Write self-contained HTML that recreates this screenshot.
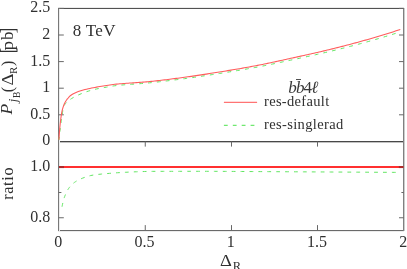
<!DOCTYPE html><html><head><meta charset="utf-8"><title>plot</title><style>
html,body{margin:0;padding:0;background:#fff;}
#c{position:relative;width:407px;height:269px;overflow:hidden;background:#fff;font-family:"Liberation Serif",serif;color:#303030;}
.t{position:absolute;white-space:nowrap;line-height:1;}
#tx{position:absolute;left:0;top:0;width:407px;height:269px;will-change:opacity;opacity:0.999;}
.rot{position:absolute;left:0;top:0;width:0;height:0;transform-origin:0 0;}
</style></head><body><div id="c">
<svg width="407" height="269" viewBox="0 0 407 269" style="position:absolute;left:0;top:0">
<g shape-rendering="crispEdges">
<rect x="58" y="8" width="346" height="1" fill="#525252"/>
<rect x="58" y="7" width="346" height="1" fill="#ececec"/>
<rect x="58" y="141" width="346" height="1" fill="#484848"/>
<rect x="58" y="142" width="346" height="1" fill="#c2c2c2"/>
<rect x="58" y="230" width="346" height="1" fill="#6a6a6a"/>
<rect x="58" y="231" width="346" height="1" fill="#ececec"/>
<rect x="58" y="8" width="1" height="223" fill="#787878"/>
<rect x="59" y="8" width="1" height="223" fill="#ececec"/>
<rect x="403" y="8" width="1" height="223" fill="#808080"/>
<rect x="404" y="8" width="1" height="223" fill="#cccccc"/>
</g>
<g stroke="#686868" stroke-width="1" fill="none">
<line x1="58.5" y1="114.80" x2="63.8" y2="114.80"/>
<line x1="403.8" y1="114.80" x2="399.0" y2="114.80"/>
<line x1="58.5" y1="88.20" x2="63.8" y2="88.20"/>
<line x1="403.8" y1="88.20" x2="399.0" y2="88.20"/>
<line x1="58.5" y1="61.60" x2="63.8" y2="61.60"/>
<line x1="403.8" y1="61.60" x2="399.0" y2="61.60"/>
<line x1="58.5" y1="35.00" x2="63.8" y2="35.00"/>
<line x1="403.8" y1="35.00" x2="399.0" y2="35.00"/>
<line x1="58.5" y1="8.40" x2="63.8" y2="8.40"/>
<line x1="403.8" y1="8.40" x2="399.0" y2="8.40"/>
<line x1="58.5" y1="217.75" x2="63.8" y2="217.75"/>
<line x1="403.8" y1="217.75" x2="399.0" y2="217.75"/>
<line x1="58.5" y1="192.50" x2="61.4" y2="192.50"/>
<line x1="403.8" y1="192.50" x2="401.40000000000003" y2="192.50"/>
<line x1="58.5" y1="167.00" x2="63.8" y2="167.00"/>
<line x1="403.8" y1="167.00" x2="399.0" y2="167.00"/>
<line x1="145.25" y1="230.5" x2="145.25" y2="225.1"/>
<line x1="145.25" y1="141.5" x2="145.25" y2="146.6"/>
<line x1="231.50" y1="230.5" x2="231.50" y2="225.1"/>
<line x1="231.50" y1="141.5" x2="231.50" y2="146.6"/>
<line x1="317.50" y1="230.5" x2="317.50" y2="225.1"/>
<line x1="317.50" y1="141.5" x2="317.50" y2="146.6"/>
</g>
<path d="M58.90,139.90 L59.09,138.23 L59.28,136.58 L59.46,134.96 L59.65,133.37 L59.84,131.81 L60.03,130.27 L60.22,128.77 L60.41,127.30 L60.59,125.85 L60.78,124.44 L60.97,123.06 L61.16,121.70 L61.35,120.37 L61.53,119.06 L61.72,117.78 L61.91,116.51 L62.10,115.27 L62.29,114.02 L62.47,112.67 L62.66,111.29 L62.85,109.95 L63.04,108.76 L63.23,107.80 L63.42,107.16 L63.60,106.70 L63.79,106.27 L63.98,105.88 L64.17,105.51 L64.36,105.18 L64.54,104.86 L64.73,104.58 L64.92,104.31 L65.11,104.06 L65.30,103.83 L65.48,103.61 L65.67,103.40 L65.86,103.21 L66.05,103.02 L66.24,102.83 L66.43,102.65 L66.61,102.48 L66.80,102.29 L66.99,102.11 L67.18,101.92 L67.37,101.74 L67.55,101.56 L67.74,101.38 L67.93,101.21 L68.12,101.05 L68.31,100.89 L68.49,100.73 L68.68,100.58 L68.87,100.43 L69.06,100.28 L69.25,100.14 L69.44,100.00 L69.62,99.87 L69.81,99.73 L70.00,99.60 L71.66,98.51 L73.32,97.53 L74.98,96.62 L76.64,95.79 L78.30,95.00 L79.96,94.25 L81.62,93.54 L83.28,92.88 L84.94,92.27 L86.60,91.70 L88.26,91.16 L89.92,90.65 L91.58,90.17 L93.24,89.73 L94.90,89.33 L96.56,88.97 L98.22,88.63 L99.88,88.31 L101.54,88.01 L103.20,87.72 L104.86,87.43 L106.52,87.13 L108.18,86.83 L109.84,86.53 L111.49,86.25 L113.15,85.98 L114.81,85.75 L116.47,85.55 L118.13,85.37 L119.79,85.20 L121.45,85.04 L123.11,84.90 L124.77,84.76 L126.43,84.63 L128.09,84.50 L129.75,84.38 L131.41,84.27 L133.07,84.15 L134.73,84.04 L136.39,83.92 L138.05,83.80 L139.71,83.68 L141.37,83.55 L143.03,83.42 L144.69,83.28 L146.35,83.13 L148.01,82.97 L149.67,82.81 L151.33,82.64 L152.99,82.47 L154.65,82.29 L156.31,82.11 L157.97,81.93 L159.63,81.74 L161.29,81.55 L162.95,81.36 L164.61,81.17 L166.27,80.97 L167.93,80.77 L169.59,80.57 L171.25,80.36 L172.91,80.16 L174.57,79.95 L176.23,79.74 L177.89,79.53 L179.55,79.31 L181.21,79.10 L182.87,78.88 L184.53,78.66 L186.19,78.44 L187.85,78.22 L189.51,77.99 L191.17,77.76 L192.83,77.52 L194.48,77.29 L196.14,77.05 L197.80,76.80 L199.46,76.56 L201.12,76.31 L202.78,76.06 L204.44,75.81 L206.10,75.56 L207.76,75.30 L209.42,75.05 L211.08,74.79 L212.74,74.53 L214.40,74.27 L216.06,74.01 L217.72,73.75 L219.38,73.48 L221.04,73.22 L222.70,72.96 L224.36,72.69 L226.02,72.43 L227.68,72.16 L229.34,71.90 L231.00,71.63 L232.66,71.36 L234.32,71.08 L235.98,70.81 L237.64,70.53 L239.30,70.26 L240.96,69.98 L242.62,69.69 L244.28,69.41 L245.94,69.12 L247.60,68.83 L249.26,68.54 L250.92,68.24 L252.58,67.94 L254.24,67.64 L255.90,67.33 L257.56,67.02 L259.22,66.71 L260.88,66.39 L262.54,66.06 L264.20,65.74 L265.86,65.40 L267.52,65.07 L269.18,64.73 L270.84,64.38 L272.50,64.04 L274.16,63.69 L275.82,63.34 L277.47,62.98 L279.13,62.63 L280.79,62.27 L282.45,61.91 L284.11,61.55 L285.77,61.20 L287.43,60.84 L289.09,60.48 L290.75,60.12 L292.41,59.76 L294.07,59.41 L295.73,59.05 L297.39,58.69 L299.05,58.34 L300.71,57.98 L302.37,57.62 L304.03,57.26 L305.69,56.90 L307.35,56.54 L309.01,56.18 L310.67,55.81 L312.33,55.45 L313.99,55.08 L315.65,54.71 L317.31,54.34 L318.97,53.96 L320.63,53.59 L322.29,53.21 L323.95,52.82 L325.61,52.44 L327.27,52.05 L328.93,51.66 L330.59,51.26 L332.25,50.86 L333.91,50.46 L335.57,50.06 L337.23,49.65 L338.89,49.24 L340.55,48.83 L342.21,48.41 L343.87,48.00 L345.53,47.58 L347.19,47.16 L348.85,46.73 L350.51,46.30 L352.17,45.87 L353.83,45.44 L355.49,45.00 L357.15,44.56 L358.81,44.12 L360.46,43.67 L362.12,43.22 L363.78,42.77 L365.44,42.31 L367.10,41.85 L368.76,41.39 L370.42,40.92 L372.08,40.45 L373.74,39.98 L375.40,39.50 L377.06,39.02 L378.72,38.53 L380.38,38.04 L382.04,37.55 L383.70,37.05 L385.36,36.55 L387.02,36.05 L388.68,35.54 L390.34,35.03 L392.00,34.52 L393.66,34.00 L395.32,33.48 L396.98,32.96 L398.64,32.43 L400.30,31.90" stroke="#62e662" stroke-width="1" fill="none" stroke-dasharray="3.8 5.1" stroke-dashoffset="0.7"/>
<path d="M58.90,139.70 L59.09,136.99 L59.28,134.37 L59.46,131.88 L59.65,129.55 L59.84,127.42 L60.03,125.52 L60.22,123.77 L60.41,122.08 L60.59,120.46 L60.78,118.92 L60.97,117.47 L61.16,116.10 L61.35,114.83 L61.53,113.66 L61.72,112.60 L61.91,111.65 L62.10,110.79 L62.29,110.00 L62.47,109.28 L62.66,108.60 L62.85,107.97 L63.04,107.37 L63.23,106.80 L63.42,106.26 L63.60,105.73 L63.79,105.22 L63.98,104.73 L64.17,104.27 L64.36,103.83 L64.54,103.41 L64.73,103.02 L64.92,102.66 L65.11,102.32 L65.30,101.98 L65.48,101.66 L65.67,101.35 L65.86,101.05 L66.05,100.76 L66.24,100.48 L66.43,100.21 L66.61,99.94 L66.80,99.69 L66.99,99.43 L67.18,99.19 L67.37,98.95 L67.55,98.72 L67.74,98.49 L67.93,98.26 L68.12,98.04 L68.31,97.82 L68.49,97.60 L68.68,97.39 L68.87,97.18 L69.06,96.98 L69.25,96.78 L69.44,96.58 L69.62,96.39 L69.81,96.21 L70.00,96.03 L71.66,94.79 L73.32,93.80 L74.98,92.97 L76.64,92.25 L78.30,91.60 L79.96,91.02 L81.62,90.49 L83.28,90.02 L84.94,89.59 L86.60,89.18 L88.26,88.80 L89.92,88.43 L91.58,88.07 L93.24,87.74 L94.90,87.41 L96.56,87.11 L98.22,86.81 L99.88,86.52 L101.54,86.24 L103.20,85.97 L104.86,85.70 L106.52,85.45 L108.18,85.20 L109.84,84.96 L111.49,84.73 L113.15,84.52 L114.81,84.33 L116.47,84.15 L118.13,83.99 L119.79,83.83 L121.45,83.69 L123.11,83.56 L124.77,83.43 L126.43,83.31 L128.09,83.19 L129.75,83.07 L131.41,82.96 L133.07,82.85 L134.73,82.74 L136.39,82.63 L138.05,82.51 L139.71,82.39 L141.37,82.27 L143.03,82.14 L144.69,82.00 L146.35,81.85 L148.01,81.69 L149.67,81.53 L151.33,81.37 L152.99,81.19 L154.65,81.02 L156.31,80.84 L157.97,80.65 L159.63,80.46 L161.29,80.27 L162.95,80.07 L164.61,79.87 L166.27,79.67 L167.93,79.46 L169.59,79.25 L171.25,79.04 L172.91,78.82 L174.57,78.61 L176.23,78.39 L177.89,78.17 L179.55,77.95 L181.21,77.73 L182.87,77.51 L184.53,77.29 L186.19,77.06 L187.85,76.83 L189.51,76.60 L191.17,76.36 L192.83,76.13 L194.48,75.88 L196.14,75.64 L197.80,75.39 L199.46,75.14 L201.12,74.89 L202.78,74.63 L204.44,74.37 L206.10,74.12 L207.76,73.86 L209.42,73.59 L211.08,73.33 L212.74,73.06 L214.40,72.80 L216.06,72.53 L217.72,72.26 L219.38,72.00 L221.04,71.73 L222.70,71.46 L224.36,71.19 L226.02,70.92 L227.68,70.65 L229.34,70.37 L231.00,70.10 L232.66,69.82 L234.32,69.54 L235.98,69.26 L237.64,68.98 L239.30,68.70 L240.96,68.41 L242.62,68.12 L244.28,67.83 L245.94,67.54 L247.60,67.24 L249.26,66.94 L250.92,66.64 L252.58,66.33 L254.24,66.02 L255.90,65.71 L257.56,65.39 L259.22,65.07 L260.88,64.75 L262.54,64.41 L264.20,64.08 L265.86,63.74 L267.52,63.39 L269.18,63.05 L270.84,62.69 L272.50,62.34 L274.16,61.98 L275.82,61.62 L277.47,61.26 L279.13,60.90 L280.79,60.54 L282.45,60.17 L284.11,59.80 L285.77,59.44 L287.43,59.07 L289.09,58.71 L290.75,58.34 L292.41,57.98 L294.07,57.61 L295.73,57.25 L297.39,56.88 L299.05,56.52 L300.71,56.15 L302.37,55.79 L304.03,55.42 L305.69,55.05 L307.35,54.68 L309.01,54.31 L310.67,53.94 L312.33,53.56 L313.99,53.19 L315.65,52.81 L317.31,52.43 L318.97,52.05 L320.63,51.66 L322.29,51.27 L323.95,50.88 L325.61,50.49 L327.27,50.09 L328.93,49.69 L330.59,49.28 L332.25,48.88 L333.91,48.47 L335.57,48.05 L337.23,47.64 L338.89,47.22 L340.55,46.80 L342.21,46.38 L343.87,45.95 L345.53,45.52 L347.19,45.09 L348.85,44.65 L350.51,44.22 L352.17,43.78 L353.83,43.33 L355.49,42.88 L357.15,42.44 L358.81,41.98 L360.46,41.53 L362.12,41.07 L363.78,40.60 L365.44,40.14 L367.10,39.67 L368.76,39.20 L370.42,38.72 L372.08,38.24 L373.74,37.76 L375.40,37.27 L377.06,36.77 L378.72,36.28 L380.38,35.78 L382.04,35.27 L383.70,34.77 L385.36,34.25 L387.02,33.74 L388.68,33.22 L390.34,32.70 L392.00,32.17 L393.66,31.65 L395.32,31.11 L396.98,30.58 L398.64,30.04 L400.30,29.50" stroke="#ff5c5c" stroke-width="1.08" fill="none"/>
<path d="M61.90,207.50 L62.21,205.80 L62.51,204.35 L62.82,203.03 L63.13,201.77 L63.43,200.58 L63.74,199.46 L64.05,198.41 L64.35,197.44 L64.66,196.54 L64.97,195.73 L65.27,194.96 L65.58,194.22 L65.89,193.51 L66.19,192.83 L66.50,192.18 L66.81,191.56 L67.12,190.97 L67.42,190.41 L67.73,189.88 L68.04,189.37 L68.34,188.90 L68.65,188.45 L68.96,188.02 L69.26,187.62 L69.57,187.22 L69.88,186.84 L70.18,186.47 L70.49,186.11 L70.80,185.76 L71.10,185.43 L71.41,185.10 L71.72,184.79 L72.02,184.48 L72.33,184.19 L72.64,183.90 L72.94,183.63 L73.25,183.36 L73.56,183.11 L73.86,182.86 L74.17,182.63 L74.48,182.40 L74.78,182.18 L75.09,181.97 L75.40,181.76 L75.71,181.56 L76.01,181.37 L76.32,181.18 L76.63,181.00 L76.93,180.81 L77.24,180.64 L77.55,180.47 L77.85,180.30 L78.16,180.14 L78.47,179.98 L78.77,179.82 L79.08,179.67 L79.39,179.52 L79.69,179.38 L80.00,179.23 L82.69,178.10 L85.38,177.10 L88.07,176.22 L90.76,175.53 L93.45,175.04 L96.14,174.66 L98.84,174.34 L101.53,174.05 L104.22,173.80 L106.91,173.57 L109.60,173.35 L112.29,173.13 L114.98,172.92 L117.67,172.73 L120.36,172.57 L123.05,172.41 L125.74,172.27 L128.43,172.13 L131.12,172.01 L133.82,171.89 L136.51,171.78 L139.20,171.68 L141.89,171.58 L144.58,171.51 L147.27,171.45 L149.96,171.39 L152.65,171.36 L155.34,171.35 L158.03,171.34 L160.72,171.33 L163.41,171.33 L166.10,171.32 L168.79,171.32 L171.49,171.32 L174.18,171.31 L176.87,171.31 L179.56,171.31 L182.25,171.31 L184.94,171.30 L187.63,171.30 L190.32,171.30 L193.01,171.30 L195.70,171.30 L198.39,171.30 L201.08,171.30 L203.77,171.30 L206.47,171.31 L209.16,171.31 L211.85,171.32 L214.54,171.33 L217.23,171.34 L219.92,171.35 L222.61,171.37 L225.30,171.38 L227.99,171.40 L230.68,171.41 L233.37,171.43 L236.06,171.45 L238.75,171.47 L241.45,171.48 L244.14,171.50 L246.83,171.52 L249.52,171.54 L252.21,171.55 L254.90,171.57 L257.59,171.59 L260.28,171.60 L262.97,171.62 L265.66,171.63 L268.35,171.65 L271.04,171.66 L273.73,171.68 L276.43,171.69 L279.12,171.71 L281.81,171.72 L284.50,171.74 L287.19,171.75 L289.88,171.77 L292.57,171.78 L295.26,171.80 L297.95,171.81 L300.64,171.83 L303.33,171.85 L306.02,171.86 L308.71,171.88 L311.41,171.89 L314.10,171.91 L316.79,171.92 L319.48,171.94 L322.17,171.95 L324.86,171.97 L327.55,171.99 L330.24,172.00 L332.93,172.02 L335.62,172.03 L338.31,172.05 L341.00,172.06 L343.69,172.08 L346.38,172.09 L349.08,172.11 L351.77,172.12 L354.46,172.14 L357.15,172.15 L359.84,172.17 L362.53,172.19 L365.22,172.20 L367.91,172.22 L370.60,172.23 L373.29,172.25 L375.98,172.26 L378.67,172.28 L381.36,172.29 L384.06,172.31 L386.75,172.32 L389.44,172.34 L392.13,172.35 L394.82,172.37 L397.51,172.38 L400.20,172.40" stroke="#62e662" stroke-width="1" fill="none" stroke-dasharray="3.8 5.1" stroke-dashoffset="-0.8"/>
<line x1="59" y1="167.05" x2="403.3" y2="167.05" stroke="#ff3030" stroke-width="2.05"/>
<line x1="59" y1="167.05" x2="64" y2="167.05" stroke="#b02a2a" stroke-width="2.05"/>
<line x1="398.8" y1="167.05" x2="403.3" y2="167.05" stroke="#b02a2a" stroke-width="2.05"/>
<line x1="223.9" y1="102.4" x2="257.1" y2="102.4" stroke="#ff7474" stroke-width="1.15"/>
 <line x1="223.9" y1="125.4" x2="257.1" y2="125.4" stroke="#70e870" stroke-width="1.15" stroke-dasharray="3.8 5.1"/>
</svg>
<div id="tx">
<div class="t" style="left:50.20px;top:132.40px;font-size:16px;transform:translateX(-100%);">0</div>
<div class="t" style="left:50.20px;top:105.80px;font-size:16px;transform:translateX(-100%);">0.5</div>
<div class="t" style="left:50.20px;top:79.20px;font-size:16px;transform:translateX(-100%);">1</div>
<div class="t" style="left:50.20px;top:52.60px;font-size:16px;transform:translateX(-100%);">1.5</div>
<div class="t" style="left:50.20px;top:26.00px;font-size:16px;transform:translateX(-100%);">2</div>
<div class="t" style="left:50.20px;top:-0.60px;font-size:16px;transform:translateX(-100%);">2.5</div>
<div class="t" style="left:50.20px;top:208.75px;font-size:16px;transform:translateX(-100%);">0.8</div>
<div class="t" style="left:50.20px;top:158.00px;font-size:16px;transform:translateX(-100%);">1.0</div>
<div class="t" style="left:58.20px;top:234.30px;font-size:16px;transform:translateX(-50%);">0</div>
<div class="t" style="left:144.45px;top:234.30px;font-size:16px;transform:translateX(-50%);">0.5</div>
<div class="t" style="left:230.70px;top:234.30px;font-size:16px;transform:translateX(-50%);">1</div>
<div class="t" style="left:316.95px;top:234.30px;font-size:16px;transform:translateX(-50%);">1.5</div>
<div class="t" style="left:403.20px;top:234.30px;font-size:16px;transform:translateX(-50%);">2</div>
<div class="t" style="left:72.80px;top:21.56px;font-size:17px;letter-spacing:0.3px;">8 TeV</div>
<div class="t" style="left:288.30px;top:79.36px;font-size:17px;letter-spacing:-0.85px;color:#383838;"><i>b</i><i>b</i>4<i>&#8467;</i></div>
<div style="position:absolute;left:295.8px;top:78.8px;width:5.7px;height:1px;background:#505050"></div>
<div class="t" style="left:264.00px;top:94.06px;font-size:14.5px;letter-spacing:0.32px;">res-default</div>
<div class="t" style="left:264.00px;top:116.66px;font-size:14.5px;letter-spacing:0.36px;">res-singlerad</div>
<div class="t" style="left:220.00px;top:253.00px;font-size:16px;transform:scaleX(1.15);transform-origin:0 0;">&#916;</div>
<div class="t" style="left:232.80px;top:259.93px;font-size:12.5px;">R</div>
<div class="rot" style="transform:translate(13.4px,114.6px) rotate(-90deg)"><div class="t" style="left:0.00px;top:-14.66px;font-size:17.5px;"><i>P</i></div><div class="t" style="left:12.30px;top:-6.07px;font-size:12.5px;"><i>j</i></div><div class="t" style="left:16.50px;top:0.04px;font-size:9.5px;">B</div><div class="t" style="left:22.40px;top:-13.40px;font-size:16px;">(</div><div class="t" style="left:29.00px;top:-13.40px;font-size:16px;transform:scaleX(1.15);transform-origin:0 0;">&#916;</div><div class="t" style="left:40.60px;top:-4.91px;font-size:11px;">R</div><div class="t" style="left:48.60px;top:-13.40px;font-size:16px;">)</div><div class="t" style="left:61.30px;top:-11.90px;font-size:16px;transform:scaleY(1.29);transform-origin:0 13.40px;">[</div><div class="t" style="left:64.40px;top:-14.24px;font-size:17px;transform:scaleX(1.13);transform-origin:0 0;">p</div><div class="t" style="left:74.60px;top:-14.24px;font-size:17px;">b</div><div class="t" style="left:81.30px;top:-11.90px;font-size:16px;transform:scaleY(1.29);transform-origin:0 13.40px;">]</div></div>
<div class="rot" style="transform:translate(13.3px,200px) rotate(-90deg)"><div class="t" style="left:0.20px;top:-13.40px;font-size:16px;letter-spacing:0.75px;">ratio</div></div>
</div></div></body></html>
